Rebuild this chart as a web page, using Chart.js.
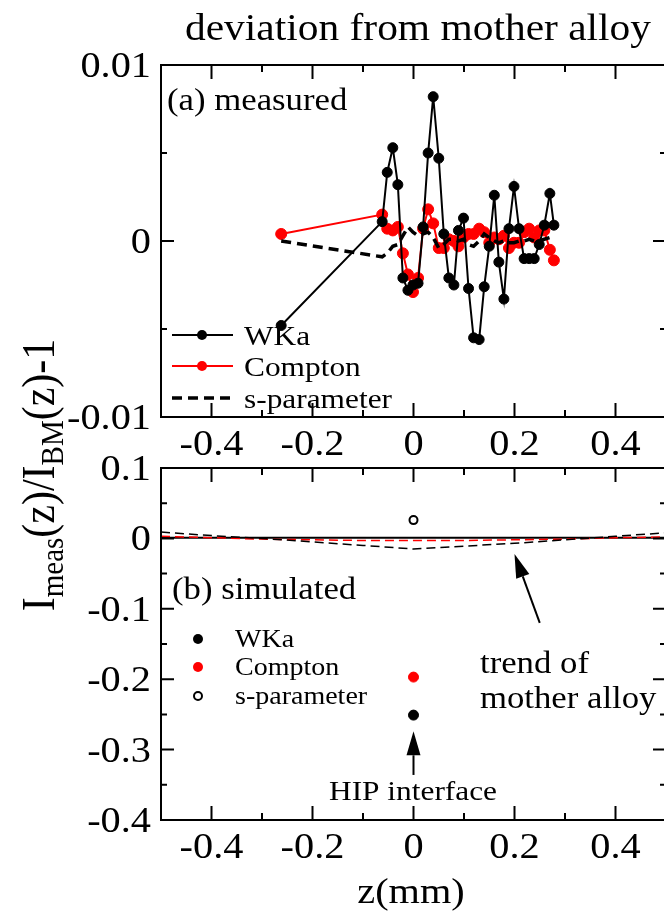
<!DOCTYPE html>
<html>
<head>
<meta charset="utf-8">
<script src="https://cdn.jsdelivr.net/npm/chart.js@4/dist/chart.umd.min.js"></script>
<style>
  html, body { margin: 0; padding: 0; background: #fff; overflow: hidden; width: 664px; height: 917px; }
  canvas { position: absolute; left: 0; top: 0; }
</style>
</head>
<body>
<canvas id="simChart" width="680" height="917"></canvas>
<canvas id="measChart" width="680" height="917"></canvas>
<script>
// ---- measured profile (panel a) ----
const zMeas = [-0.262, -0.062, -0.052, -0.041, -0.031, -0.021, -0.011, -0.001, 0.009, 0.019,
               0.029, 0.039, 0.050, 0.060, 0.070, 0.080, 0.089, 0.099, 0.109, 0.119,
               0.130, 0.140, 0.150, 0.160, 0.169, 0.179, 0.189, 0.199, 0.209, 0.219,
               0.229, 0.239, 0.249, 0.259, 0.270, 0.278];
const wkaMeas = [-0.0048, 0.0011, 0.0039, 0.0053, 0.0032, -0.0021, -0.0028, -0.0025, -0.0024, 0.0008,
                 0.0050, 0.0082, 0.0047, 0.0004, -0.0021, -0.0025, 0.0006, 0.0013, -0.0027, -0.0055,
                 -0.0056, -0.0026, -0.0003, 0.0026, -0.0012, -0.0033, 0.0007, 0.0031, 0.0007, -0.0010,
                 -0.0010, -0.0010, -0.0002, 0.0009, 0.0027, 0.0009];
const comptonMeas = [0.0004, 0.0015, 0.0007, 0.0006, 0.0008, -0.0007, -0.0019, -0.0029, -0.0021, 0.0007,
                     0.0018, 0.0010, -0.0004, -0.0004, 0.0001, 0.0000, -0.0003, 0.0002, 0.0004, 0.0004,
                     0.0007, 0.0005, -0.0001, 0.0002, 0.0001, 0.0003, -0.0004, -0.0001, -0.0001, 0.0005,
                     0.0007, 0.0002, 0.0006, 0.0006, -0.0005, -0.0011];
const sparamMeas = [0.0000, -0.0009, -0.0007, -0.0003, -0.0002, 0.0003, 0.0008, 0.0005, 0.0003, 0.0004,
                    0.0005, 0.0002, -0.0004, -0.0002, 0.0001, 0.0001, 0.0000, 0.0001, -0.0002, -0.0003,
                    0.0000, 0.0004, 0.0002, 0.0000, -0.0001, 0.0000, -0.0001, -0.0001, 0.0000, 0.0000,
                    0.0001, 0.0000, 0.0000, 0.0001, 0.0002, 0.0002];

// ---- simulated (panel b) ----
const zTrend = [-0.5, -0.4, -0.3, -0.2, -0.1, 0, 0.1, 0.2, 0.3, 0.4, 0.5];
const wkaTrend = [0.001, 0.001, 0.001, 0.001, 0.001, 0.001, 0.001, 0.001, 0.001, 0.001, 0.001];
const comptonTrend = [0.003, 0.001, -0.001, -0.002, -0.003, -0.003, -0.003, -0.002, -0.001, 0.001, 0.002];
const sparamTrend = [0.009, 0.004, 0.000, -0.005, -0.010, -0.015, -0.011, -0.007, -0.002, 0.003, 0.008];
const zSim = [0];
const wkaSim = [-0.251];
const comptonSim = [-0.197];
const sparamSim = [0.026];

// ---- axes ----
const xTicks = [-0.4, -0.2, 0, 0.2, 0.4];
const xTickLabels = ['-0.4', '-0.2', '0', '0.2', '0.4'];
const xMinor = [-0.3, -0.1, 0.1, 0.3];
const yTicksA = [-0.01, 0, 0.01];
const yTickLabelsA = ['-0.01', '0', '0.01'];
const yMinorA = [-0.005, 0.005];
const yTicksB = [-0.4, -0.3, -0.2, -0.1, 0, 0.1];
const yTickLabelsB = ['-0.4', '-0.3', '-0.2', '-0.1', '0', '0.1'];
const yMinorB = [-0.35, -0.25, -0.15, -0.05, 0.05];

const FONT = '"Liberation Serif", "Times New Roman", serif';
const SX = 1.12;   // horizontal widening of the lettering

function pts(xs, ys) { return xs.map((x, i) => ({ x: x, y: ys[i] })); }

function txt(ctx, s, x, y, size, align, sx) {
  sx = sx || SX;
  ctx.save();
  ctx.font = size + 'px ' + FONT;
  ctx.fillStyle = '#000';
  ctx.textBaseline = 'alphabetic';
  ctx.textAlign = 'left';
  const w = ctx.measureText(s).width * sx;
  const x0 = align === 'center' ? x - w / 2 : align === 'right' ? x - w : x;
  ctx.translate(x0, y);
  ctx.scale(sx, 1);
  ctx.fillText(s, 0, 0);
  ctx.restore();
}

function dot(ctx, x, y, r, fill, stroke, lw) {
  ctx.beginPath();
  ctx.arc(x, y, r, 0, Math.PI * 2);
  if (fill) { ctx.fillStyle = fill; ctx.fill(); }
  if (stroke) { ctx.strokeStyle = stroke; ctx.lineWidth = lw || 2; ctx.stroke(); }
}

function arrow(ctx, x1, y1, x2, y2, len, half) {
  const a = Math.atan2(y2 - y1, x2 - x1);
  const bx = x2 - Math.cos(a) * len, by = y2 - Math.sin(a) * len;
  ctx.save();
  ctx.strokeStyle = '#000'; ctx.fillStyle = '#000'; ctx.lineWidth = 2;
  ctx.beginPath(); ctx.moveTo(x1, y1); ctx.lineTo(bx, by); ctx.stroke();
  ctx.beginPath();
  ctx.moveTo(x2, y2);
  ctx.lineTo(bx + Math.sin(a) * half, by - Math.cos(a) * half);
  ctx.lineTo(bx - Math.sin(a) * half, by + Math.cos(a) * half);
  ctx.closePath(); ctx.fill();
  ctx.restore();
}

// frame with inward major/minor ticks and stretched tick labels
function drawFrame(chart, yTicks, yLabels, yMinor) {
  const ctx = chart.ctx, a = chart.chartArea, sx = chart.scales.x, sy = chart.scales.y;
  ctx.save();
  ctx.strokeStyle = '#000';
  ctx.lineWidth = 2;
  ctx.strokeRect(a.left, a.top, a.right - a.left, a.bottom - a.top);
  ctx.beginPath();
  xTicks.forEach(v => { const p = sx.getPixelForValue(v);
    ctx.moveTo(p, a.bottom); ctx.lineTo(p, a.bottom - 14);
    ctx.moveTo(p, a.top); ctx.lineTo(p, a.top + 14); });
  xMinor.forEach(v => { const p = sx.getPixelForValue(v);
    ctx.moveTo(p, a.bottom); ctx.lineTo(p, a.bottom - 7);
    ctx.moveTo(p, a.top); ctx.lineTo(p, a.top + 7); });
  yTicks.forEach(v => { const p = sy.getPixelForValue(v);
    ctx.moveTo(a.left, p); ctx.lineTo(a.left + 13, p);
    ctx.moveTo(a.right, p); ctx.lineTo(a.right - 13, p); });
  yMinor.forEach(v => { const p = sy.getPixelForValue(v);
    ctx.moveTo(a.left, p); ctx.lineTo(a.left + 6, p);
    ctx.moveTo(a.right, p); ctx.lineTo(a.right - 6, p); });
  ctx.stroke();
  ctx.restore();
  xTicks.forEach((v, i) => txt(ctx, xTickLabels[i], sx.getPixelForValue(v), a.bottom + 38, 36, 'center'));
  yTicks.forEach((v, i) => txt(ctx, yLabels[i], a.left - 10, sy.getPixelForValue(v) + 12, 36, 'right'));
}

function axisOpts(min, max, ticks) {
  return {
    x: { type: 'linear', min: -0.5, max: 0.5,
         ticks: { display: false }, grid: { display: false, drawTicks: false }, border: { display: false },
         afterBuildTicks: s => { s.ticks = xTicks.map(v => ({ value: v })); },
         afterFit: s => { s.height = 0; s.paddingLeft = 0; s.paddingRight = 0; } },
    y: { type: 'linear', min: min, max: max,
         ticks: { display: false }, grid: { display: false, drawTicks: false }, border: { display: false },
         afterBuildTicks: s => { s.ticks = ticks.map(v => ({ value: v })); },
         afterFit: s => { s.width = 161; s.paddingTop = 0; s.paddingBottom = 0; } }
  };
}

const common = {
  responsive: false, animation: false, devicePixelRatio: 1,
  plugins: { legend: { display: false }, tooltip: { enabled: false }, title: { display: false } },
  elements: { line: { tension: 0 } }
};

function build() {
  // ---- panel (a): measured ----
  new Chart(document.getElementById('measChart'), {
    type: 'line',
    data: { datasets: [
      { data: pts(zMeas, sparamMeas), borderColor: '#000', borderWidth: 3.5, borderDash: [10, 6], pointRadius: 0 },
      { data: pts(zMeas, wkaMeas), borderColor: '#000', borderWidth: 2, pointRadius: 5,
        pointBackgroundColor: '#000', pointBorderColor: '#000', pointBorderWidth: 1 },
      { data: pts(zMeas, comptonMeas), borderColor: '#f00', borderWidth: 2, pointRadius: 5.5,
        pointBackgroundColor: '#f00', pointBorderColor: '#f00', pointBorderWidth: 1 }
    ] },
    options: Object.assign({}, common, {
      layout: { padding: { left: 0, right: 14, top: 65, bottom: 500 } },
      scales: axisOpts(-0.01, 0.01, yTicksA)
    }),
    plugins: [{
      id: 'panelA',
      afterDraw(chart) {
        const ctx = chart.ctx;
        drawFrame(chart, yTicksA, yTickLabelsA, yMinorA);
        txt(ctx, 'deviation from mother alloy', 418, 40, 37, 'center');
        txt(ctx, '(a) measured', 167, 110, 31, 'left');
        // legend
        const rows = [
          { label: 'WKa', color: '#000', y: 335, dash: [], w: 2, marker: true },
          { label: 'Compton', color: '#f00', y: 366, dash: [], w: 2, marker: true },
          { label: 's-parameter', color: '#000', y: 398, dash: [10, 6], w: 3.5, marker: false }
        ];
        rows.forEach(r => {
          ctx.save();
          ctx.strokeStyle = r.color; ctx.lineWidth = r.w; ctx.setLineDash(r.dash);
          ctx.beginPath(); ctx.moveTo(172, r.y); ctx.lineTo(233, r.y); ctx.stroke();
          ctx.setLineDash([]);
          if (r.marker) dot(ctx, 202, r.y, 5, r.color);
          ctx.restore();
          txt(ctx, r.label, 244, r.y + 10, 28, 'left');
        });
      }
    }]
  });

  // ---- panel (b): simulated ----
  new Chart(document.getElementById('simChart'), {
    type: 'line',
    data: { datasets: [
      { data: pts(zTrend, sparamTrend), borderColor: '#000', borderWidth: 1.5, borderDash: [9, 5], pointRadius: 0 },
      { data: pts(zTrend, comptonTrend), borderColor: '#f00', borderWidth: 1.5, borderDash: [9, 5], pointRadius: 0 },
      { data: pts(zTrend, wkaTrend), borderColor: '#000', borderWidth: 2, pointRadius: 0 },
      { data: pts(zSim, wkaSim), showLine: false, pointRadius: 5, pointBackgroundColor: '#000', pointBorderColor: '#000' },
      { data: pts(zSim, comptonSim), showLine: false, pointRadius: 5, pointBackgroundColor: '#f00', pointBorderColor: '#f00' },
      { data: pts(zSim, sparamSim), showLine: false, pointRadius: 4, pointBackgroundColor: '#fff',
        pointBorderColor: '#000', pointBorderWidth: 2 }
    ] },
    options: Object.assign({}, common, {
      layout: { padding: { left: 0, right: 14, top: 468, bottom: 97 } },
      scales: axisOpts(-0.4, 0.1, yTicksB)
    }),
    plugins: [{
      id: 'panelB',
      afterDraw(chart) {
        const ctx = chart.ctx, sx = chart.scales.x, sy = chart.scales.y;
        drawFrame(chart, yTicksB, yTickLabelsB, yMinorB);
        txt(ctx, '(b) simulated', 172, 599, 31, 'left');
        // legend
        const rows = [
          { label: 'WKa', fill: '#000', y: 639 },
          { label: 'Compton', fill: '#f00', y: 667 },
          { label: 's-parameter', fill: null, y: 696 }
        ];
        rows.forEach(r => {
          ctx.save();
          if (r.fill) dot(ctx, 198, r.y, 5, r.fill); else dot(ctx, 198, r.y, 4, '#fff', '#000', 2);
          ctx.restore();
          txt(ctx, r.label, 235, r.y + 8, 25, 'left');
        });
        // annotations
        txt(ctx, 'trend of', 480, 673, 31, 'left');
        txt(ctx, 'mother alloy', 480, 708, 31, 'left');
        arrow(ctx, sx.getPixelForValue(0.25), sy.getPixelForValue(-0.12),
                   sx.getPixelForValue(0.2), sy.getPixelForValue(-0.022), 24, 7);
        arrow(ctx, sx.getPixelForValue(0), sy.getPixelForValue(-0.336),
                   sx.getPixelForValue(0), sy.getPixelForValue(-0.274), 24, 7);
        txt(ctx, 'HIP interface', 413, 800, 28, 'center');
        txt(ctx, 'z(mm)', 411, 903, 36, 'center');
        // rotated quantity label with subscripts
        const parts = [['I', 0], ['meas', 1], ['(z)/I', 0], ['BM', 1], ['(z)-1', 0]];
        const F = 42, Fs = 29;
        ctx.save();
        ctx.fillStyle = '#000';
        let total = 0;
        parts.forEach(p => { ctx.font = (p[1] ? Fs : F) + 'px ' + FONT; total += ctx.measureText(p[0]).width; });
        ctx.translate(54, 475);
        ctx.rotate(-Math.PI / 2);
        ctx.scale(1, SX);
        let cx = -total / 2;
        parts.forEach(p => {
          ctx.font = (p[1] ? Fs : F) + 'px ' + FONT;
          ctx.fillText(p[0], cx, p[1] ? 8 : 0);
          cx += ctx.measureText(p[0]).width;
        });
        ctx.restore();
      }
    }]
  });
}

// make sure the serif face is ready before the canvases paint their lettering
if (document.fonts && document.fonts.load) {
  document.fonts.load('36px "Liberation Serif"').then(build, build);
} else {
  build();
}
</script>
</body>
</html>
